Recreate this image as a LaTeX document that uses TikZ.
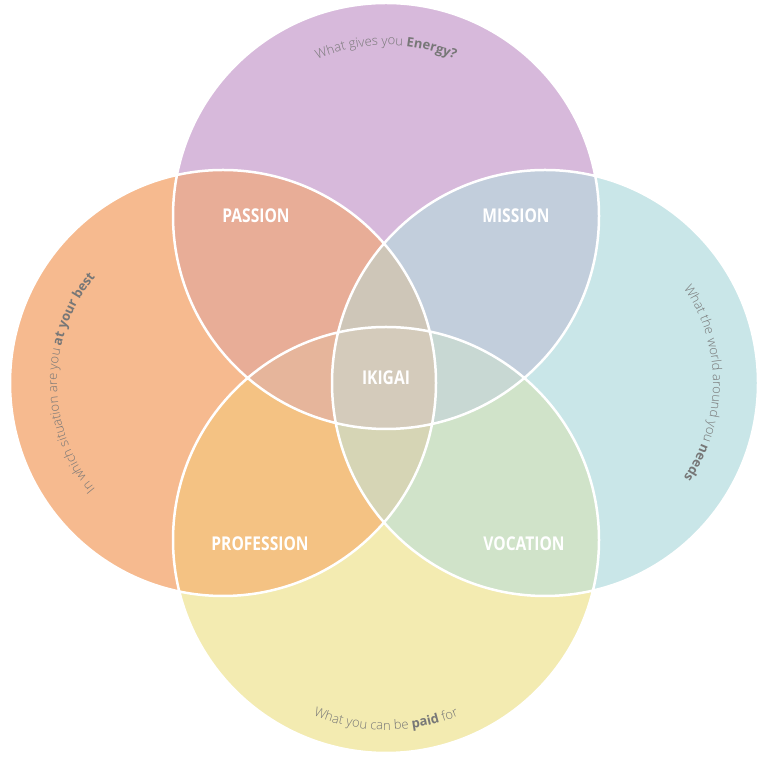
\documentclass[tikz,border=0pt]{standalone}
\usepackage{fontspec}
\setmainfont{Open Sans}
\newfontfamily\lightf{Open Sans Light}
\usetikzlibrary{decorations.text}
\definecolor{cT}{HTML}{D7B9DB}
\definecolor{cL}{HTML}{F6BA8F}
\definecolor{cR}{HTML}{C9E6E8}
\definecolor{cB}{HTML}{F3EBB1}
\definecolor{cTL}{HTML}{E8AD97}
\definecolor{cTR}{HTML}{C2CEDC}
\definecolor{cLB}{HTML}{F4C283}
\definecolor{cRB}{HTML}{D0E3C9}
\definecolor{cTLR}{HTML}{CEC6B8}
\definecolor{cTLB}{HTML}{E6B59B}
\definecolor{cTRB}{HTML}{C8D8D3}
\definecolor{cLRB}{HTML}{D6D5B5}
\definecolor{cAll}{HTML}{D4CBBB}
\definecolor{txt}{HTML}{777777}
\tikzset{lbl/.style={text=white,font=\fontsize{19}{19}\selectfont\bfseries,xscale=0.82},
 arctext/.style={decorate,decoration={text along path,text align=center}}}
\def\LF{\lightf\fontsize{13}{13}\selectfont\color{txt}}
\def\BF{\bfseries\fontsize{13}{13}\selectfont\color{txt}}
\def\CT{(386,554) circle (213)}
\def\CL{(223,387) circle (213)}
\def\CR{(545,387) circle (213)}
\def\CB{(386,230) circle (213)}
\begin{document}
\begin{tikzpicture}[x=1pt,y=1pt]
\useasboundingbox (0,0) rectangle (770,770);
\fill[cT] \CT; \fill[cL] \CL; \fill[cR] \CR; \fill[cB] \CB;
\begin{scope}\clip \CT; \fill[cTL] \CL; \fill[cTR] \CR; \fill[cTLR] \CB; \end{scope}
\begin{scope}\clip \CB; \fill[cLB] \CL; \fill[cRB] \CR; \end{scope}
\begin{scope}\clip \CT; \clip \CL; \fill[cTLR] \CR; \fill[cTLB] \CB; \end{scope}
\begin{scope}\clip \CT; \clip \CR; \fill[cTRB] \CB; \end{scope}
\begin{scope}\clip \CB; \clip \CL; \fill[cLRB] \CR; \end{scope}
\begin{scope}\clip \CT; \clip \CL; \clip \CR; \fill[cAll] \CB; \end{scope}
\draw[white,line width=2.5pt] \CT \CL \CR \CB;
\node[lbl] (passion) at (256,554) {PASSION};
\node[lbl] (mission) at (516,554) {MISSION};
\node[lbl] (profession) at (260,226) {PROFESSION};
\node[lbl] (vocation) at (524,226) {VOCATION};
\node[lbl] (ikigai) at (386,392) {IKIGAI};
\path[arctext,decoration={text={|\LF|What gives you |\BF|Energy?}}]
  (386,554) ++(120:171) arc[start angle=120,end angle=60,radius=171];
\path[arctext,decoration={text={|\LF|In which situation are you |\BF|at your best}}]
  (223,387) ++(228:166) arc[start angle=228,end angle=132,radius=166];
\path[arctext,decoration={text={|\LF|What the world around you |\BF|needs}}]
  (545,387) ++(42:168) arc[start angle=42,end angle=-42,radius=168];
\path[arctext,decoration={text={|\LF|What you can be |\BF|paid |\LF|for}}]
  (386,230) ++(240:190) arc[start angle=240,end angle=300,radius=190];
\end{tikzpicture}
\end{document}
